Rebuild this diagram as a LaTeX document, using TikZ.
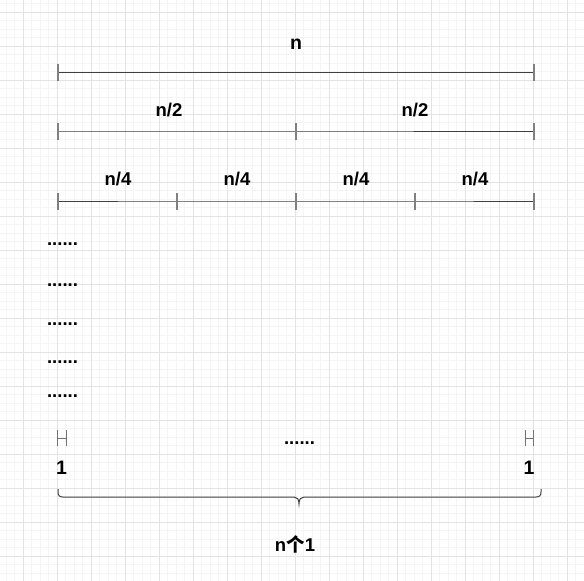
\documentclass[tikz,border=0pt]{standalone}
\usepackage{fontspec}
\setmainfont{Liberation Sans}
\newfontfamily\cjk{Noto Sans CJK SC}
\begin{document}
\begin{tikzpicture}[x=1pt,y=-1pt,
  minorgrid/.style={draw=black!4,line width=0.7pt},
  majorgrid/.style={draw=black!11,line width=0.8pt},
  seg/.style={draw=black!75,line width=1pt},
  tick/.style={draw=black!50,line width=1.5pt},
  lbl/.style={anchor=base,inner sep=0pt,font=\fontsize{18.5}{22}\selectfont\bfseries},
  biglbl/.style={anchor=base,inner sep=0pt,font=\fontsize{19.5}{22}\selectfont\bfseries},
  hmark/.style={draw=black!55,line width=1pt},
  brace/.style={draw=black!75,line width=1pt}]
\useasboundingbox (0,0) rectangle (584,581);
\fill[white] (0,0) rectangle (584,581);
% grid
\foreach \i in {0,...,68} {
  \draw[minorgrid] ({6+8.5*\i},0) -- ({6+8.5*\i},581);
  \draw[minorgrid] (0,{3.5+8.5*\i}) -- (584,{3.5+8.5*\i});
}
\foreach \i in {0,...,16} {
  \draw[majorgrid] ({23+34*\i},0) -- ({23+34*\i},581);
  \draw[majorgrid] (0,{12+34*\i}) -- (584,{12+34*\i});
}
% level n
\coordinate (a0) at (58,72);
\coordinate (a1) at (534,72);
\draw[seg] (a0) -- (a1);
\foreach \c in {a0,a1} \draw[tick] ([yshift=-8.5pt]\c) -- ([yshift=8.5pt]\c);
\node[biglbl] (tn) at (296,49.5) {n};
% level n/2
\coordinate (b0) at (58,131);
\coordinate (b1) at (296,131);
\coordinate (b2) at (534,131);
\draw[seg] (b0) -- (b1) -- (b2);
\foreach \c in {b0,b1,b2} \draw[tick] ([yshift=-8.5pt]\c) -- ([yshift=8.5pt]\c);
\node[lbl] (h1) at (169,116.7) {n/2};
\node[lbl] (h2) at (415,116.7) {n/2};
% level n/4
\coordinate (c0) at (58,201);
\coordinate (c1) at (177,201);
\coordinate (c2) at (296,201);
\coordinate (c3) at (415,201);
\coordinate (c4) at (534,201);
\draw[seg] (c0) -- (c1) -- (c2) -- (c3) -- (c4);
\foreach \c in {c0,c1,c2,c3,c4} \draw[tick] ([yshift=-8.5pt]\c) -- ([yshift=8.5pt]\c);
\node[lbl] (q1) at (118,185) {n/4};
\node[lbl] (q2) at (237,185) {n/4};
\node[lbl] (q3) at (356,185) {n/4};
\node[lbl] (q4) at (475,185) {n/4};
% dots
\node[lbl] (d1) at (62.5,245) {......};
\node[lbl] (d2) at (62.5,286.5) {......};
\node[lbl] (d3) at (62.5,325.5) {......};
\node[lbl] (d4) at (62.5,363.5) {......};
\node[lbl] (d5) at (62.5,397.5) {......};
\node[lbl] (dm) at (299.5,444.5) {......};
% small unit segments
\coordinate (l0) at (57.5,438);
\coordinate (l1) at (66,438);
\draw[hmark] (l0) -- (l1);
\draw[hmark] ([yshift=-8pt]l0) -- ([yshift=8pt]l0);
\draw[hmark] ([yshift=-8pt]l1) -- ([yshift=8pt]l1);
\coordinate (r0) at (525,438);
\coordinate (r1) at (533.5,438);
\draw[hmark] (r0) -- (r1);
\draw[hmark] ([yshift=-8pt]r0) -- ([yshift=8pt]r0);
\draw[hmark] ([yshift=-8pt]r1) -- ([yshift=8pt]r1);
\node[biglbl] (one1) at (61.5,474) {1};
\node[biglbl] (one2) at (529,474) {1};
% brace
\coordinate (bl) at (58,489);
\coordinate (br) at (541,489);
\coordinate (bt) at (299,504);
\draw[brace] (bl) -- (58,492) .. controls (58,495.5) and (59.5,497) .. (63,497)
  -- (294,497) .. controls (297,497) and (299,499) .. (bt)
  .. controls (299,499) and (301,497) .. (304,497)
  -- (536,497) .. controls (539.5,497) and (541,495.5) .. (541,492) -- (br);
\node[lbl] (cnt) at (295,551) {n{\cjk\bfseries 个}1};
\end{tikzpicture}
\end{document}
